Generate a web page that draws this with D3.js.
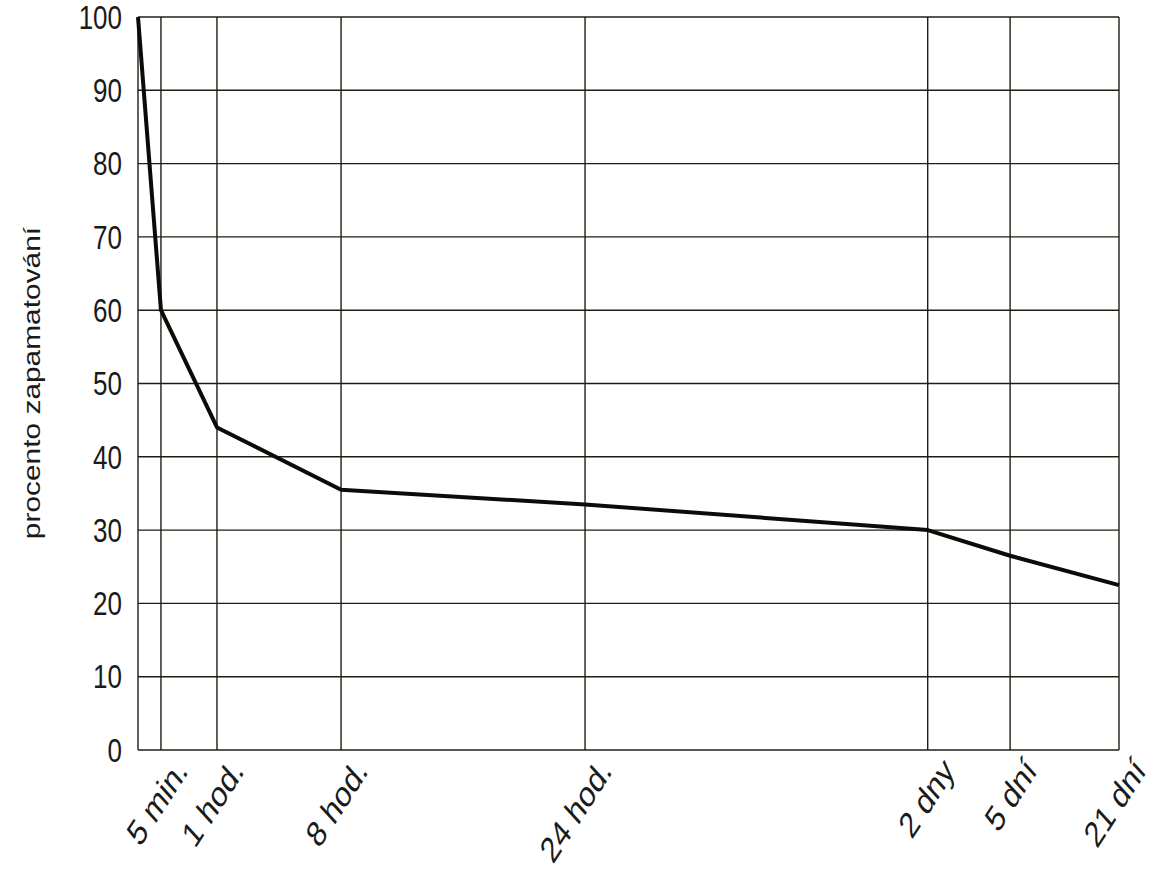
<!DOCTYPE html>
<html>
<head>
<meta charset="utf-8">
<script src="https://cdn.jsdelivr.net/npm/d3@7"></script>
<style>
  html, body { margin: 0; padding: 0; background: #ffffff; }
  svg { display: block; }
  text { font-family: "Liberation Sans", Arial, sans-serif; fill: #1a1a1a; }
</style>
</head>
<body>
<svg id="chart" width="1161" height="881"></svg>
<script>
// ---- data ----
const timeLabels = ["5 min.", "1 hod.", "8 hod.", "24 hod.", "2 dny", "5 dní", "21 dní"];
const timeMinutes = [5, 60, 480, 1440, 2880, 7200, 30240];
const retention = [60, 44, 35.5, 33.5, 30, 26.5, 22.5];
const startMinute = 0;
const startRetention = 100;
const yTicks = [0, 10, 20, 30, 40, 50, 60, 70, 80, 90, 100];
const yTitle = "procento zapamatování";

// ---- layout ----
const svg = d3.select("#chart");
const mLeft = 138, mRight = 1119, mTop = 17, mBottom = 750;
const W = mRight - mLeft;

// irregular (hand-drawn) time axis: piecewise linear scale
const x = d3.scaleLinear()
  .domain([startMinute].concat(timeMinutes))
  .range([0, 0.0234, 0.0805, 0.207, 0.4557, 0.805, 0.889, 1].map(f => mLeft + f * W));
const y = d3.scaleLinear().domain([0, 100]).range([mBottom, mTop]);

const gridColor = "#221d14";

// horizontal grid lines
svg.append("g").selectAll("line").data(yTicks).join("line")
  .attr("x1", mLeft).attr("x2", mRight)
  .attr("y1", d => y(d)).attr("y2", d => y(d))
  .attr("stroke", gridColor).attr("stroke-width", 1.4);

// vertical grid lines (left axis + time ticks)
svg.append("g").selectAll("line").data([startMinute].concat(timeMinutes)).join("line")
  .attr("x1", d => x(d)).attr("x2", d => x(d))
  .attr("y1", y(0)).attr("y2", y(100))
  .attr("stroke", gridColor).attr("stroke-width", 1.4);

// y tick labels
svg.append("g").selectAll("text").data(yTicks).join("text")
  .attr("transform", d => `translate(122,${y(d)}) scale(1,1.25)`)
  .attr("text-anchor", "end")
  .attr("dy", "0.36em")
  .attr("font-size", 26)
  .text(d => d);

// y title
svg.append("text")
  .attr("transform", `translate(40,383) rotate(-90) scale(1.3,1)`)
  .attr("text-anchor", "middle")
  .attr("font-size", 23)
  .text(yTitle);

// x tick labels (rotated)
svg.append("g").selectAll("text").data(timeMinutes).join("text")
  .attr("transform", (d) => `translate(${x(d) + 28},${mBottom + 22}) scale(1,1.3) rotate(-50)`)
  .attr("text-anchor", "end")
  .attr("font-size", 28)
  .text((d, i) => timeLabels[i]);

// forgetting curve
const pts = [[startMinute, startRetention]].concat(timeMinutes.map((m, i) => [m, retention[i]]));
svg.append("path")
  .datum(pts)
  .attr("fill", "none")
  .attr("stroke", "#0d0b08")
  .attr("stroke-width", 4)
  .attr("stroke-linejoin", "round")
  .attr("d", d3.line().x(d => x(d[0])).y(d => y(d[1])));
</script>
</body>
</html>
